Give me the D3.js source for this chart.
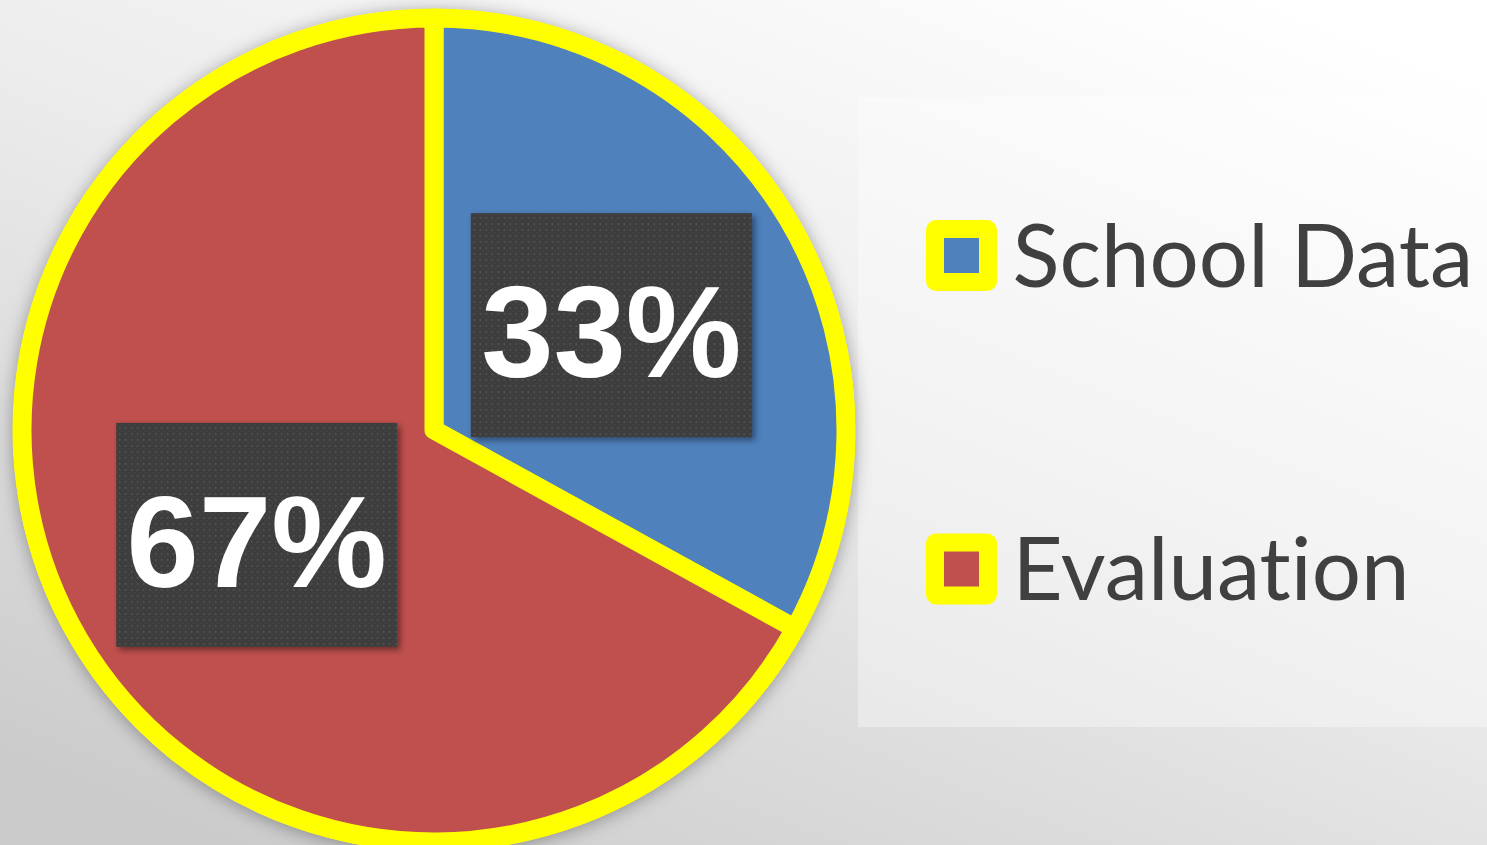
<!DOCTYPE html>
<html>
<head>
<meta charset="utf-8">
<script src="https://cdn.jsdelivr.net/npm/d3@7"></script>
<style>
  html, body { margin: 0; padding: 0; overflow: hidden; }
  svg { display: block; }
</style>
</head>
<body>
<div id="chart"></div>
<script>
// data
const categories = ["School Data", "Evaluation"];
const values = [33, 67];
const sliceColors = ["#4F81BD", "#C0504D"];

const width = 1487;
const height = 845;

const cx = 434, cy = 430, radius = 412;

const svg = d3.select("#chart")
  .append("svg")
  .attr("width", width)
  .attr("height", height);

const defs = svg.append("defs");

// background gradient, light top right to grey bottom left
const bg = defs.append("linearGradient")
  .attr("id", "bg")
  .attr("x1", "0.85").attr("y1", "0")
  .attr("x2", "0.15").attr("y2", "1");
bg.append("stop").attr("offset", "0%").attr("stop-color", "#ffffff");
bg.append("stop").attr("offset", "45%").attr("stop-color", "#ececec");
bg.append("stop").attr("offset", "100%").attr("stop-color", "#cbcbcb");

const pieShadow = defs.append("filter")
  .attr("id", "pieShadow")
  .attr("x", "-10%").attr("y", "-10%")
  .attr("width", "120%").attr("height", "120%");
pieShadow.append("feDropShadow")
  .attr("dx", 0).attr("dy", 2)
  .attr("stdDeviation", 9)
  .attr("flood-color", "#000")
  .attr("flood-opacity", 0.35);

const boxShadow = defs.append("filter")
  .attr("id", "boxShadow")
  .attr("x", "-10%").attr("y", "-10%")
  .attr("width", "130%").attr("height", "130%");
boxShadow.append("feDropShadow")
  .attr("dx", 3).attr("dy", 3)
  .attr("stdDeviation", 3)
  .attr("flood-color", "#000")
  .attr("flood-opacity", 0.45);

// dotted texture for the label boxes
const dots = defs.append("pattern")
  .attr("id", "dots")
  .attr("width", 6).attr("height", 6)
  .attr("patternUnits", "userSpaceOnUse");
dots.append("rect").attr("width", 6).attr("height", 6).attr("fill", "#3c3c3c");
dots.append("rect").attr("x", 0).attr("y", 0).attr("width", 2).attr("height", 2).attr("fill", "#505050");
dots.append("rect").attr("x", 3).attr("y", 3).attr("width", 1.5).attr("height", 1.5).attr("fill", "#474747");

svg.append("rect")
  .attr("width", width)
  .attr("height", height)
  .attr("fill", "url(#bg)");

// legend panel
svg.append("rect")
  .attr("x", 858).attr("y", 97)
  .attr("width", 629).attr("height", 630)
  .attr("fill", "#ffffff")
  .attr("fill-opacity", 0.35);

const pie = d3.pie().sort(null).value(d => d);
const arcs = pie(values);

const arc = d3.arc().innerRadius(0).outerRadius(radius);
const labelArc = d3.arc().innerRadius(radius / 2).outerRadius(radius / 2);

const pieGroup = svg.append("g")
  .attr("transform", `translate(${cx}, ${cy})`);

pieGroup.append("circle")
  .attr("r", radius + 9)
  .attr("fill", "#ffff00")
  .attr("filter", "url(#pieShadow)");

pieGroup.selectAll("path")
  .data(arcs)
  .join("path")
  .attr("d", arc)
  .attr("fill", (d, i) => sliceColors[i])
  .attr("stroke", "#ffff00")
  .attr("stroke-width", 19)
  .attr("stroke-linejoin", "round");

// data labels
const boxW = 281, boxH = 224;
const labels = pieGroup.selectAll("g.label")
  .data(arcs)
  .join("g")
  .attr("class", "label")
  .attr("transform", d => `translate(${labelArc.centroid(d)})`);

labels.append("rect")
  .attr("x", -boxW / 2)
  .attr("y", -boxH / 2)
  .attr("width", boxW)
  .attr("height", boxH)
  .attr("fill", "url(#dots)")
  .attr("filter", "url(#boxShadow)");

labels.append("text")
  .attr("x", 0)
  .attr("y", 52)
  .attr("text-anchor", "middle")
  .attr("fill", "#ffffff")
  .attr("font-family", "'Liberation Sans', Arial, sans-serif")
  .attr("font-weight", "bold")
  .attr("font-size", 130)
  .text(d => d.data + "%");

// legend
const legendY = d3.scalePoint()
  .domain(categories)
  .range([255.5, 569]);

const legend = svg.selectAll("g.legend")
  .data(categories)
  .join("g")
  .attr("class", "legend")
  .attr("transform", d => `translate(961.5, ${legendY(d)})`);

legend.append("rect")
  .attr("x", -35.5).attr("y", -35.5)
  .attr("width", 71).attr("height", 71)
  .attr("fill", "#ffff00")
  .attr("rx", 10);

legend.append("rect")
  .attr("x", -17.5).attr("y", -17.5)
  .attr("width", 35).attr("height", 35)
  .attr("fill", (d, i) => sliceColors[i]);

legend.append("text")
  .attr("x", 51)
  .attr("y", 31)
  .attr("fill", "#404040")
  .attr("font-family", "Lato, 'Open Sans', sans-serif")
  .attr("font-size", 87)
  .style("font-variant-ligatures", "none")
  .text(d => d);
</script>
</body>
</html>
